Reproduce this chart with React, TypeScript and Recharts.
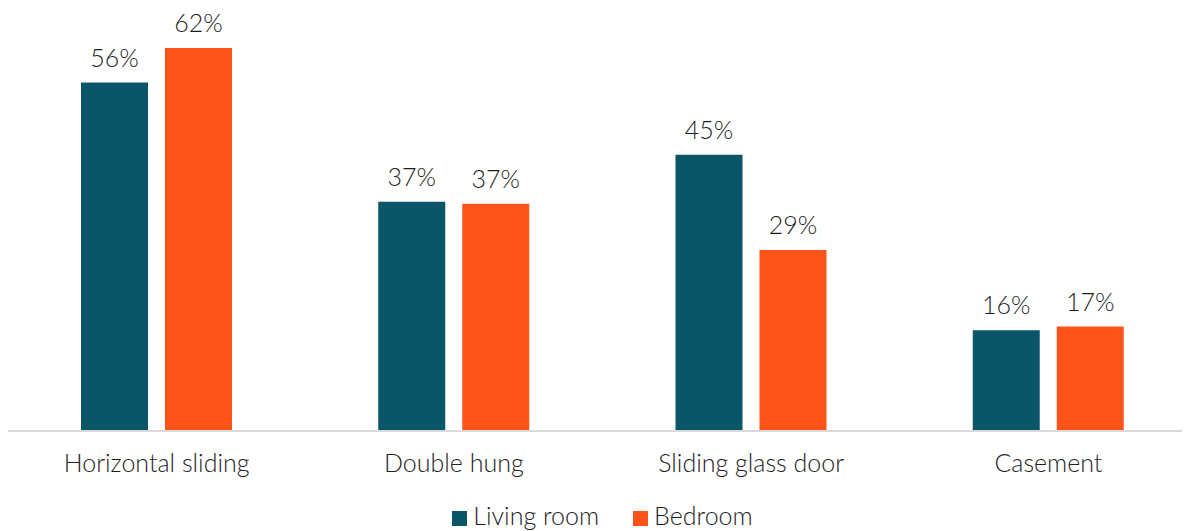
import React from "react";
import { BarChart, Bar, XAxis, YAxis, LabelList, Legend } from "recharts";

const categories = ["Horizontal sliding", "Double hung", "Sliding glass door", "Casement"];
const livingRoom = [56.4, 37.1, 44.7, 16.3];
const bedroom = [62, 36.8, 29.3, 16.9];
const seriesNames = ["Living room", "Bedroom"];
const colors = ["#0A5567", "#FF5419"];

const data = categories.map((c, i) => ({ name: c, living: livingRoom[i], bedroom: bedroom[i] }));

const FONT = "Lato, 'Noto Sans', sans-serif";
const TEXT = "#1e1e1e";
const FS = 25;

const fmt = (v: any) => `${Math.round(Number(v))}%`;

const LegendContent = () => (
  <div
    style={{
      height: 27,
      lineHeight: "22px",
      display: "flex",
      justifyContent: "center",
      alignItems: "baseline",
      fontFamily: FONT,
      fontSize: FS,
      fontWeight: 300,
      color: TEXT,
      overflow: "visible",
      whiteSpace: "nowrap",
    }}
  >
    {seriesNames.map((n, i) => (
      <span key={n} style={{ display: "inline-flex", alignItems: "baseline", marginRight: i === 0 ? 34 : 0 }}>
        <span
          style={{
            display: "inline-block",
            width: 15,
            height: 15,
            background: colors[i],
            marginRight: 6,
            position: "relative",
            top: 1,
          }}
        />
        {n}
      </span>
    ))}
  </div>
);

export default function App() {
  return (
    <div style={{ marginTop: -8 }}>
      <BarChart
        width={1189}
        height={531}
        data={data}
        margin={{ top: 48, right: 0, bottom: 0, left: 0 }}
        barSize={67}
        barGap={17}
        style={{ fontFamily: FONT }}
      >
        <XAxis
          dataKey="name"
          tickLine={false}
          tickSize={0}
          tickMargin={23}
          height={73}
          axisLine={{ stroke: "#d9d9d9", strokeWidth: 2 }}
          tick={{ fill: TEXT, fontSize: FS, fontFamily: FONT, fontWeight: 300 }}
          interval={0}
        />
        <YAxis hide domain={[0, 62]} />
        <Legend verticalAlign="bottom" content={<LegendContent />} />
        <Bar dataKey="living" name={seriesNames[0]} fill={colors[0]} isAnimationActive={false}>
          <LabelList dataKey="living" position="top" offset={16} formatter={fmt} fill={TEXT} fontSize={FS} fontFamily={FONT} fontWeight={300} />
        </Bar>
        <Bar dataKey="bedroom" name={seriesNames[1]} fill={colors[1]} isAnimationActive={false}>
          <LabelList dataKey="bedroom" position="top" offset={16} formatter={fmt} fill={TEXT} fontSize={FS} fontFamily={FONT} fontWeight={300} />
        </Bar>
      </BarChart>
    </div>
  );
}
